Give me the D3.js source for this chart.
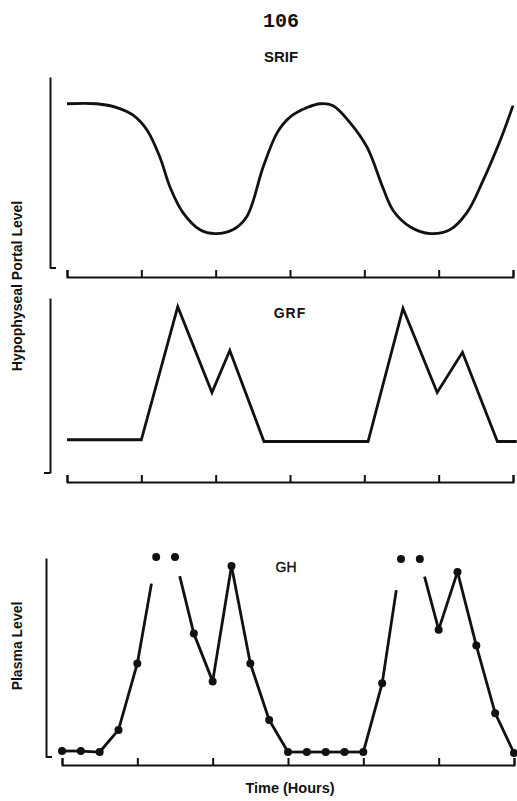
<!DOCTYPE html>
<html>
<head>
<meta charset="utf-8">
<script src="https://cdn.jsdelivr.net/npm/d3@7"></script>
<style>
  body { margin: 0; background: #fff; }
  svg { display: block; }
  text { fill: #111; font-family: 'Liberation Sans', Arial, sans-serif; font-weight: bold; }
</style>
</head>
<body>
<svg id="grafico"></svg>
<script>
// SRIF (smooth curve), time in hours
const srifHoras = [0, 0.4, 0.67, 0.89, 1.08, 1.25, 1.39, 1.56, 1.79, 1.99, 2.23, 2.42, 2.64, 2.83, 3.0, 3.23, 3.41, 3.58, 3.81, 4.04, 4.25, 4.39, 4.62, 4.89, 5.15, 5.38, 5.6, 5.83, 6.0];
const srifNivel = [86, 86, 84, 80, 72, 58, 42, 29, 20, 18, 20, 27, 53, 71, 79, 84, 86, 85, 76, 63, 42, 30, 21.5, 18, 20, 29, 46, 67, 85];

// GRF (straight segments)
const grfHoras = [0, 1, 1.49, 1.95, 2.19, 2.65, 4.05, 4.52, 4.98, 5.32, 5.79, 6.05];
const grfNivel = [19, 19, 95, 46, 70, 18, 18, 94, 46, 69, 18, 18];

// GH, one sample every 15 min
const ghHoras = d3.range(0, 6.01, 0.25);
const ghNivel = [3, 3, 2.5, 13.6, 47, 100.5, 100.5, 62, 38, 96, 47, 18.6, 2.5, 2.5, 2.5, 2.5, 2.5, 37, 99.5, 99.5, 64, 93, 56, 22, 2];
const ghForaEscala = [1.25, 1.5, 4.5, 4.75];

const marcasHoras = [0, 1, 2, 3, 4, 5, 6];

const largura = 517, altura = 801;
const svg = d3.select('#grafico').attr('width', largura).attr('height', altura);

const espessura = 2.8;

function painel(p) {
    const g = svg.append('g');

    const fnX = d3.scaleLinear().domain([0, 6]).range([p.x0, p.x1]);
    const fnY = d3.scaleLinear().domain([0, 100]).range([p.yBase, p.yTopo]);

    // eixo vertical sem marcas
    g.append('g')
        .attr('transform', 'translate(' + p.eixoY + ',0)')
        .call(d3.axisLeft(fnY).tickValues([]).tickSizeOuter(0))
        .call(s => s.select('.domain').attr('stroke', '#111').attr('stroke-width', 2));
    g.append('line')
        .attr('x1', p.eixoY).attr('x2', p.eixoY + p.pe)
        .attr('y1', fnY(0)).attr('y2', fnY(0))
        .attr('stroke', '#111').attr('stroke-width', 2);

    // eixo do tempo, marcas para cima
    g.append('g')
        .attr('transform', 'translate(0,' + p.eixoX + ')')
        .call(d3.axisTop(fnX).tickValues(marcasHoras).tickSize(7).tickSizeOuter(7).tickFormat(''))
        .call(s => s.select('.domain').attr('stroke', '#111').attr('stroke-width', 2))
        .call(s => s.selectAll('.tick line').attr('stroke', '#111').attr('stroke-width', 2));

    return { g: g, fnX: fnX, fnY: fnY };
}

// SRIF
const pSrif = painel({ x0: 67, x1: 513, yTopo: 77, yBase: 268, eixoY: 50, eixoX: 277, pe: 6 });
pSrif.g.append('path')
    .datum(srifHoras.map((h, i) => [h, srifNivel[i]]))
    .attr('fill', 'none').attr('stroke', '#111').attr('stroke-width', espessura)
    .attr('d', d3.line().x(d => pSrif.fnX(d[0])).y(d => pSrif.fnY(d[1])).curve(d3.curveCatmullRom.alpha(0.5)));

// GRF
const pGrf = painel({ x0: 67, x1: 513, yTopo: 298, yBase: 473, eixoY: 50, eixoX: 482, pe: -6 });
pGrf.g.append('path')
    .datum(grfHoras.map((h, i) => [h, grfNivel[i]]))
    .attr('fill', 'none').attr('stroke', '#111').attr('stroke-width', espessura)
    .attr('stroke-linejoin', 'miter')
    .attr('d', d3.line().x(d => pGrf.fnX(d[0])).y(d => pGrf.fnY(d[1])));

// GH
const pGh = painel({ x0: 62, x1: 514, yTopo: 558, yBase: 757, eixoY: 46, eixoX: 765, pe: 6 });
const ghPontos = ghHoras.map((h, i) => ({
    x: pGh.fnX(h),
    y: pGh.fnY(ghNivel[i]),
    fora: ghForaEscala.includes(h)
}));
const segmentos = [];
for (let i = 1; i < ghPontos.length; i++) {
    const a = ghPontos[i - 1], b = ghPontos[i];
    if (a.fora && b.fora) continue;
    const t0 = a.fora ? 0.25 : 0, t1 = b.fora ? 0.75 : 1;
    segmentos.push({
        x1: a.x + (b.x - a.x) * t0, y1: a.y + (b.y - a.y) * t0,
        x2: a.x + (b.x - a.x) * t1, y2: a.y + (b.y - a.y) * t1
    });
}
pGh.g.selectAll('.segmento').data(segmentos).enter().append('line')
    .classed('segmento', true)
    .attr('x1', d => d.x1).attr('y1', d => d.y1)
    .attr('x2', d => d.x2).attr('y2', d => d.y2)
    .attr('stroke', '#111').attr('stroke-width', espessura);
pGh.g.selectAll('.ponto').data(ghPontos).enter().append('circle')
    .classed('ponto', true)
    .attr('cx', d => d.x).attr('cy', d => d.y).attr('r', 4)
    .attr('fill', '#111');

// textos
svg.append('text').attr('x', 281).attr('y', 27).attr('text-anchor', 'middle')
    .style('font-family', "'Liberation Mono', 'DejaVu Sans Mono', monospace")
    .style('font-size', '20px').text('106');
svg.append('text').attr('x', 281).attr('y', 62).attr('text-anchor', 'middle')
    .style('font-size', '15px').text('SRIF');
svg.append('text').attr('x', 290).attr('y', 318).attr('text-anchor', 'middle')
    .style('font-size', '14px').style('letter-spacing', '1px').text('GRF');
svg.append('text').attr('x', 286).attr('y', 572).attr('text-anchor', 'middle')
    .style('font-size', '14px').style('font-weight', 'normal').style('stroke', '#111').style('stroke-width', 0.4)
    .text('GH');
svg.append('text').attr('x', 290).attr('y', 793).attr('text-anchor', 'middle')
    .style('font-size', '14.5px').text('Time (Hours)');
svg.append('text').attr('text-anchor', 'middle')
    .attr('transform', 'translate(22,286) rotate(-90)')
    .style('font-size', '14px').text('Hypophyseal Portal Level');
svg.append('text').attr('text-anchor', 'middle')
    .attr('transform', 'translate(22,646) rotate(-90)')
    .style('font-size', '14px').text('Plasma Level');
</script>
</body>
</html>
